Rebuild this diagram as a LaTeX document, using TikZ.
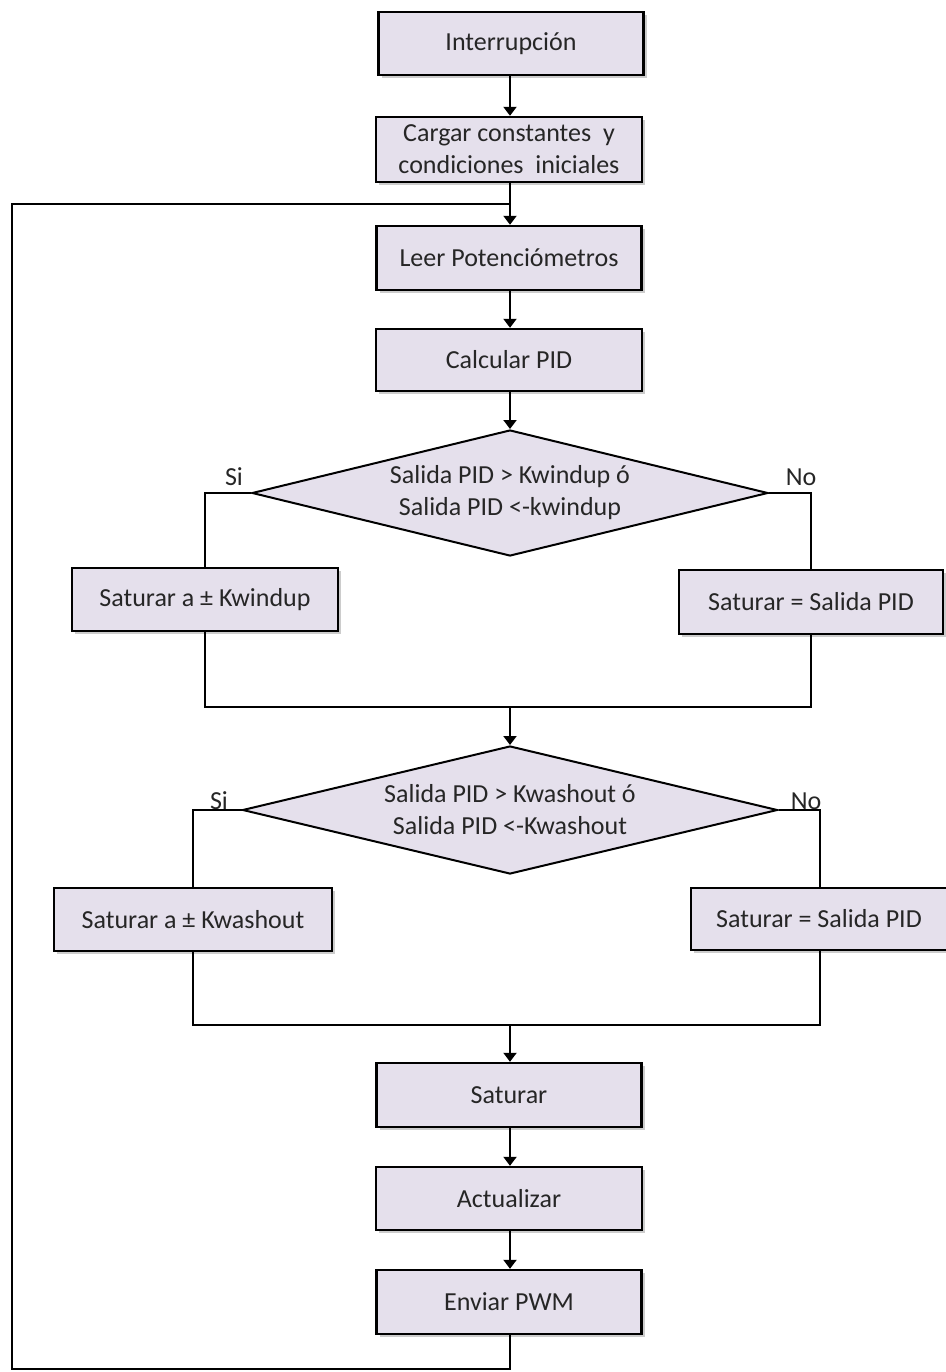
\documentclass[tikz,border=0pt]{standalone}
\usepackage{fontspec}
\setmainfont{Carlito}
\usetikzlibrary{shapes.geometric,arrows.meta,shadows}
\definecolor{boxfill}{HTML}{E5E0EC}
\definecolor{txt}{HTML}{262626}
\begin{document}
\begin{tikzpicture}[x=1pt,y=-1pt,
  every node/.style={font=\fontsize{26}{32}\selectfont, text=txt},
  procbox/.style={draw=black, line width=2.4pt, fill=boxfill, inner sep=0pt, align=center,
     drop shadow={shadow xshift=3pt, shadow yshift=-3pt, fill=black, opacity=0.2}},
  decis/.style={diamond, draw=black, line width=2pt, fill=boxfill, inner sep=0pt, align=center, aspect=4.1},
  conn/.style={draw=black, line width=2pt},
  arr/.style={conn, -{Triangle[width=13pt,length=9pt]}},
  lbl/.style={inner sep=0pt}
]
\useasboundingbox (0,0) rectangle (945,1372);

\node[procbox, minimum width=265pt, minimum height=63pt] (int) at (511,43.5) {Interrupción};
\node[procbox, minimum width=266pt, minimum height=65pt] (carg) at (509,149.5) {Cargar constantes~ y\\condiciones~ iniciales};
\node[procbox, minimum width=265pt, minimum height=64pt] (leer) at (509,258) {Leer Potenciómetros};
\node[procbox, minimum width=266pt, minimum height=62pt] (calc) at (509,360) {Calcular PID};

\node[decis, minimum width=516pt, minimum height=126pt] (d1) at (510,493) {Salida PID > Kwindup ó\\Salida PID <-kwindup};
\node[lbl] (si1) at (234,477) {Si};
\node[lbl] (no1) at (801,477) {No};

\node[procbox, minimum width=266pt, minimum height=63pt] (kw1) at (205,599.5) {Saturar a ± Kwindup};
\node[procbox, minimum width=264pt, minimum height=64pt] (sp1) at (811,602) {Saturar = Salida PID};
\coordinate (m1) at (510,707);

\node[decis, minimum width=535pt, minimum height=128pt] (d2) at (510,810) {Salida PID > Kwashout ó\\Salida PID <-Kwashout};
\node[lbl] (si2) at (219,801) {Si};
\node[lbl] (no2) at (806,801) {No};

\node[procbox, minimum width=278pt, minimum height=63pt] (kw2) at (193,919.5) {Saturar a ± Kwashout};
\node[procbox, minimum width=256pt, minimum height=62pt] (sp2) at (819,919) {Saturar = Salida PID};
\coordinate (m2) at (510,1025);

\node[procbox, minimum width=265pt, minimum height=64pt] (sat) at (509,1095) {Saturar};
\node[procbox, minimum width=266pt, minimum height=63pt] (act) at (509,1198.5) {Actualizar};
\node[procbox, minimum width=265pt, minimum height=64pt] (env) at (509,1302) {Enviar PWM};

\coordinate (lpa) at (12,1369);
\coordinate (lpb) at (12,204);
\coordinate (lpj) at (510,204);

% main flow
\draw[arr] (int.south -| lpj) -- (carg.north -| lpj);
\draw[arr] (carg.south -| lpj) -- (leer.north -| lpj);
\draw[arr] (leer.south -| lpj) -- (calc.north -| lpj);
\draw[arr] (calc.south -| lpj) -- (d1.north);

% decision 1
\draw[conn] (d1.west) -| (kw1.north);
\draw[conn] (d1.east) -| (sp1.north);
\draw[conn] (kw1.south) |- (m1) -| (sp1.south);
\draw[arr] (m1) -- (d2.north);

% decision 2
\draw[conn] (d2.west) -| (kw2.north);
\draw[conn] (d2.east) -| ([xshift=1pt]sp2.north);
\draw[conn] (kw2.south) |- (m2) -| ([xshift=1pt]sp2.south);
\draw[arr] (m2) -- (sat.north -| m2);

\draw[arr] (sat.south -| lpj) -- (act.north -| lpj);
\draw[arr] (act.south -| lpj) -- (env.north -| lpj);

% loop back
\draw[conn, line join=miter] (env.south -| lpj) |- (lpa) -- (lpb) -- (lpj);
\end{tikzpicture}
\end{document}
